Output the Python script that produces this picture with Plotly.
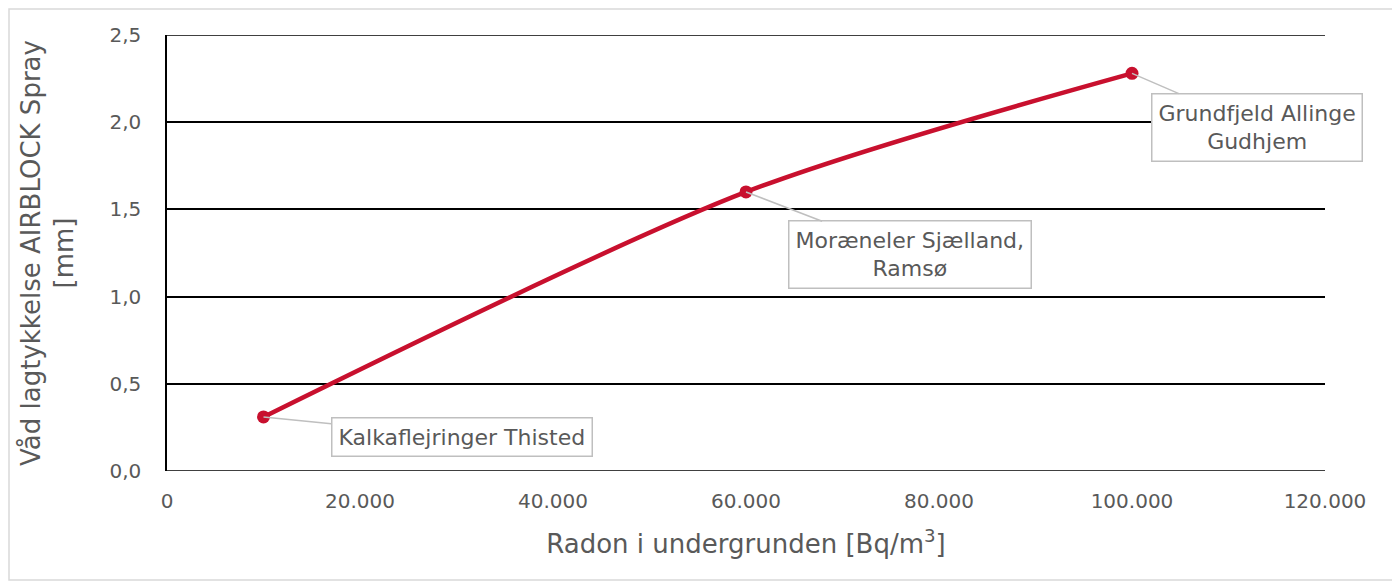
import plotly.graph_objects as go

radon = [10000, 60000, 100000]
thickness = [0.31, 1.60, 2.28]
labels = ["Kalkaflejringer Thisted", "Moræneler Sjælland,<br>Ramsø", "Grundfjeld Allinge<br>Gudhjem"]
label_offsets = [(198, 20), (164, 63), (125, 54)]

FONT = "DejaVu Sans"
GRAY = "#595959"
RED = "#C8102E"

W, H = 1392, 577
L, R, T, B = 159, 75, 27, 114
pw = W - L - R
ph = H - T - B

fig = go.Figure()
fig.add_trace(go.Scatter(
    x=radon, y=thickness, mode="lines+markers",
    line=dict(color=RED, width=4.5, shape="spline", smoothing=0.8),
    marker=dict(color=RED, size=13),
    showlegend=False, hoverinfo="skip",
))

for xv, yv, lab, (ax, ay) in zip(radon, thickness, labels, label_offsets):
    fig.add_annotation(
        x=xv, y=yv, text=lab, showarrow=True, arrowhead=0, arrowwidth=1.5,
        arrowcolor="#BFBFBF", ax=ax, ay=ay, axref="pixel", ayref="pixel",
        bordercolor="#BFBFBF", borderwidth=1.5, borderpad=6, bgcolor="white",
        font=dict(family=FONT, size=22, color=GRAY), align="center",
    )

fig.update_layout(
    width=W, height=H,
    margin=dict(l=L, r=R, t=T, b=B),
    paper_bgcolor="white", plot_bgcolor="white",
    separators=",.",
    font=dict(family=FONT, color=GRAY),
    xaxis=dict(
        range=[0, 120000], dtick=20000, tickformat=",d",
        showgrid=False, zeroline=False, showline=False,
        ticks="", tickfont=dict(size=20, color=GRAY), ticklabelstandoff=16,
        title=dict(text="Radon i undergrunden [Bq/m<sup>3</sup>]",
                   font=dict(size=26, color=GRAY), standoff=22),
    ),
    yaxis=dict(
        range=[0, 2.5], dtick=0.5, tickformat=".1f",
        showgrid=True, gridcolor="black", gridwidth=1.5,
        zeroline=False, showline=True, linecolor="black", linewidth=1.5,
        ticks="", tickfont=dict(size=20, color=GRAY), ticklen=0,
        ticklabelstandoff=20,
        title=dict(text="Våd lagtykkelse AIRBLOCK Spray<br>[mm]",
                   font=dict(size=26, color=GRAY), standoff=28),
    ),
)
for yv in (0, 2.5):
    fig.add_shape(type="line", xref="paper", yref="y", x0=0, x1=1, y0=yv, y1=yv,
                  line=dict(color="black", width=1.5), layer="below")
# outer chart border
fig.add_shape(type="rect", xref="paper", yref="paper",
              x0=(1 - L) / pw, x1=(1385 - L) / pw,
              y0=(T + ph - 572) / ph, y1=(T + ph - 1) / ph,
              line=dict(color="#D9D9D9", width=1.5), layer="below")

fig.write_html("out.html")
